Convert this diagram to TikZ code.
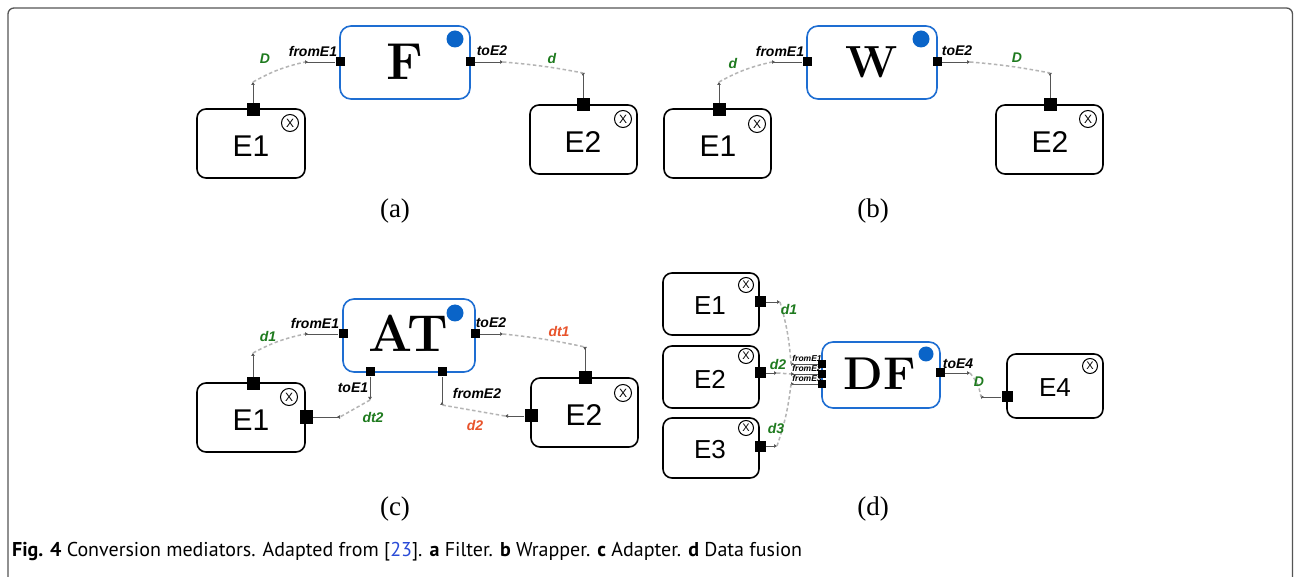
\documentclass[tikz,border=0pt]{standalone}
\usepackage{fontspec}
\setsansfont{Liberation Sans}
\newfontfamily\serifsub{Liberation Serif}
\newfontfamily\capfont{PT Sans}
\usetikzlibrary{arrows.meta}
\definecolor{medblue}{HTML}{1E6ED2}
\definecolor{dotblue}{HTML}{0A64C8}
\definecolor{labgreen}{HTML}{1E7A1E}
\definecolor{labred}{HTML}{E8532B}
\definecolor{changray}{HTML}{B4B4B4}
\definecolor{stubgray}{HTML}{555555}
\definecolor{linkblue}{HTML}{2A4BD7}
\definecolor{framegray}{HTML}{555555}
\begin{document}
\begin{tikzpicture}[x=1pt,y=-1pt,
  ent/.style={draw=black, line width=1.6pt, rounded corners=9pt, fill=white, inner sep=0pt},
  med/.style={draw=medblue, line width=1.6pt, rounded corners=11pt, fill=white, inner sep=0pt},
  port/.style={fill=black, inner sep=0pt, minimum size=13pt},
  mport/.style={fill=black, inner sep=0pt, minimum size=11pt},
  sport/.style={fill=black, inner sep=0pt, minimum size=9pt},
  tport/.style={fill=black, inner sep=0pt, minimum size=7.5pt},
  stub/.style={draw=stubgray, line width=0.7pt},
  outstub/.style={stub, -{Triangle[length=3pt,width=3.5pt]}},
  instub/.style={stub, {Triangle[reversed,length=3pt,width=3.5pt]}-},
  chan/.style={draw=changray, line width=1.5pt, dash pattern=on 3.5pt off 2.5pt},
  xmark/.style={draw, circle, line width=1pt, minimum size=17pt, inner sep=0pt, font=\sffamily\fontsize{12}{12}\selectfont},
  sxmark/.style={xmark, minimum size=15pt, font=\sffamily\fontsize{11}{11}\selectfont},
  dot/.style={circle, fill=dotblue, minimum size=17pt, inner sep=0pt},
  sdot/.style={dot, minimum size=15pt},
  ename/.style={font=\sffamily\fontsize{30}{30}\selectfont, inner sep=0pt},
  sename/.style={font=\sffamily\fontsize{26}{26}\selectfont, inner sep=0pt},
  mname/.style={font=\bfseries\fontsize{52}{52}\selectfont, inner sep=0pt},
  plab/.style={font=\sffamily\bfseries\itshape\fontsize{14}{14}\selectfont, inner sep=0pt},
  tlab/.style={font=\sffamily\bfseries\itshape\fontsize{8.5}{8.5}\selectfont, inner sep=0pt},
  glab/.style={plab, text=labgreen},
  rlab/.style={plab, text=labred},
  subcap/.style={font=\serifsub\fontsize{27}{27}\selectfont, inner sep=0pt}
]
\useasboundingbox (0,0) rectangle (1294,577);
\fill[white] (0,0) rectangle (1294,577);
% frame
\draw[framegray, line width=1.3pt, rounded corners=6pt] (8,580) -- (8,8) -- (1292.5,8) -- (1292.5,580);

% ================= (a) =================
\node[ent, minimum width=108pt, minimum height=69pt] (aE1) at (251,143.5) {};
\node[ename] (aE1t) at (251,146) {E1};
\node[xmark] (aE1x) at (290,123) {X};
\node[med, minimum width=130pt, minimum height=73pt] (aF) at (405,62.5) {};
\node[mname] (aFt) at (405,62) {F};
\node[dot] (aFd) at (455,39) {};
\node[ent, minimum width=107pt, minimum height=69pt] (aE2) at (583.5,139.5) {};
\node[ename] (aE2t) at (583,142) {E2};
\node[xmark] (aE2x) at (623,119) {X};
\node[port] (aP1) at (253,110) {};
\node[sport] (aPi) at (340,62) {};
\node[sport] (aPo) at (470,62) {};
\node[port] (aP2) at (583,105) {};
\coordinate (aT1) at (253,82);
\coordinate (aTi) at (305,62);
\coordinate (aTo) at (503,62);
\coordinate (aT2) at (583,73);
\draw[outstub] (aP1) -- (aT1);
\draw[instub] (aTi) -- (aPi);
\draw[outstub] (aPo) -- (aTo);
\draw[instub] (aT2) -- (aP2);
\draw[chan] (aT1) to[bend left=8] (aTi);
\draw[chan] (aTo) to[bend left=3] (aT2);
\node[glab] (aLD) at (265,59) {D};
\node[plab] (aLfrom) at (313,51) {fromE1};
\node[plab] (aLto) at (492,51) {toE2};
\node[glab] (aLd) at (552,59) {d};
\node[subcap] (aCap) at (395,211) {(a)};

% ================= (b) =================
\node[ent, minimum width=107pt, minimum height=69pt] (bE1) at (717.5,143.5) {};
\node[ename] (bE1t) at (718,146) {E1};
\node[xmark] (bE1x) at (757,124) {X};
\node[med, minimum width=130pt, minimum height=73pt] (bW) at (872,62.5) {};
\node[mname, font=\bfseries\fontsize{45}{45}\selectfont] (bWt) at (872,62) {W};
\node[dot] (bWd) at (921,39) {};
\node[ent, minimum width=107pt, minimum height=69pt] (bE2) at (1049.5,139.5) {};
\node[ename] (bE2t) at (1050,142) {E2};
\node[xmark] (bE2x) at (1088,119) {X};
\node[port] (bP1) at (719,110) {};
\node[sport] (bPi) at (807,62) {};
\node[sport] (bPo) at (937,62) {};
\node[port] (bP2) at (1050,105) {};
\coordinate (bT1) at (719,82);
\coordinate (bTi) at (772,62);
\coordinate (bTo) at (970,62);
\coordinate (bT2) at (1050,73);
\draw[outstub] (bP1) -- (bT1);
\draw[instub] (bTi) -- (bPi);
\draw[outstub] (bPo) -- (bTo);
\draw[instub] (bT2) -- (bP2);
\draw[chan] (bT1) to[bend left=8] (bTi);
\draw[chan] (bTo) to[bend left=3] (bT2);
\node[glab] (bLd) at (733,64) {d};
\node[plab] (bLfrom) at (780,51) {fromE1};
\node[plab] (bLto) at (957,51) {toE2};
\node[glab] (bLD) at (1017,58) {D};
\node[subcap] (bCap) at (873,211) {(b)};

% ================= (c) =================
\node[ent, minimum width=108pt, minimum height=69pt] (cE1) at (251,417.5) {};
\node[ename] (cE1t) at (251,420) {E1};
\node[xmark] (cE1x) at (289,397) {X};
\node[med, minimum width=132pt, minimum height=73pt] (cAT) at (409,335.5) {};
\node[mname] (cATt) at (408,333) {AT};
\node[dot] (cATd) at (455,313) {};
\node[ent, minimum width=107pt, minimum height=69pt] (cE2) at (584.5,412.5) {};
\node[ename] (cE2t) at (584,415) {E2};
\node[xmark] (cE2x) at (623,393) {X};
\node[port] (cP1) at (253,384) {};
\node[port] (cPr) at (306,417) {};
\node[sport] (cPi) at (343,334) {};
\node[sport] (cPo) at (475,334) {};
\node[sport] (cPb1) at (370,372) {};
\node[sport] (cPb2) at (442,372) {};
\node[port] (cP2) at (585,378) {};
\node[port] (cPl) at (531,416) {};
\coordinate (cT1) at (253,353);
\coordinate (cTr) at (340,417);
\coordinate (cTi) at (305,334);
\coordinate (cTo) at (503,334);
\coordinate (cTb1) at (370,400);
\coordinate (cTb2) at (442,405);
\coordinate (cT2) at (585,347);
\coordinate (cTl) at (505,416);
\draw[outstub] (cP1) -- (cT1);
\draw[instub] (cTr) -- (cPr);
\draw[instub] (cTi) -- (cPi);
\draw[outstub] (cPo) -- (cTo);
\draw[outstub] (cPb1) -- (cTb1);
\draw[instub] (cTb2) -- (cPb2);
\draw[instub] (cT2) -- (cP2);
\draw[outstub] (cPl) -- (cTl);
\draw[chan] (cT1) to[bend left=8] (cTi);
\draw[chan] (cTo) to[bend left=3] (cT2);
\draw[chan] (cTb1) -- (cTr);
\draw[chan] (cTl) -- (cTb2);
\node[glab] (cLd1) at (268,337) {d1};
\node[plab] (cLfrom1) at (315,323) {fromE1};
\node[plab] (cLto2) at (491,323) {toE2};
\node[rlab] (cLdt1) at (559,332) {dt1};
\node[plab] (cLto1) at (353,388) {toE1};
\node[plab] (cLfrom2) at (477,393) {fromE2};
\node[glab] (cLdt2) at (373,417) {dt2};
\node[rlab] (cLd2) at (475,425) {d2};
\node[subcap] (cCap) at (395,509) {(c)};

% ================= (d) =================
\node[ent, minimum width=96pt, minimum height=62pt] (dE1) at (711,304) {};
\node[sename] (dE1t) at (710,306) {E1};
\node[sxmark] (dE1x) at (746,285) {X};
\node[ent, minimum width=96pt, minimum height=62pt] (dE2) at (711,377) {};
\node[sename] (dE2t) at (710,379) {E2};
\node[sxmark] (dE2x) at (746,356) {X};
\node[ent, minimum width=96pt, minimum height=60pt] (dE3) at (711,448) {};
\node[sename] (dE3t) at (710,450) {E3};
\node[sxmark] (dE3x) at (746,428) {X};
\node[med, minimum width=118pt, minimum height=66pt] (dDF) at (881,375) {};
\node[mname, font=\bfseries\fontsize{46}{46}\selectfont] (dDFt) at (880,374) {DF};
\node[sdot] (dDFd) at (926,354) {};
\node[ent, minimum width=96pt, minimum height=64pt] (dE4) at (1055,386) {};
\node[sename] (dE4t) at (1055,388) {E4};
\node[sxmark] (dE4x) at (1090,366) {X};
\node[mport] (dP1) at (760,302) {};
\node[mport] (dP2) at (760,373) {};
\node[mport] (dP3) at (760,446) {};
\node[tport] (dPi1) at (822,364) {};
\node[tport] (dPi2) at (822,374) {};
\node[tport] (dPi3) at (822,384) {};
\node[sport] (dPo) at (940,373) {};
\node[mport] (dP4) at (1007,397) {};
\coordinate (dT1) at (780,302);
\coordinate (dT2) at (777,373);
\coordinate (dT3) at (777,446);
\coordinate (dTi1) at (791,364);
\coordinate (dTi2) at (791,374);
\coordinate (dTi3) at (791,384);
\coordinate (dTo) at (970,373);
\coordinate (dT4) at (981,397);
\draw[outstub] (dP1) -- (dT1);
\draw[outstub] (dP2) -- (dT2);
\draw[outstub] (dP3) -- (dT3);
\draw[instub] (dTi1) -- (dPi1);
\draw[instub] (dTi2) -- (dPi2);
\draw[instub] (dTi3) -- (dPi3);
\draw[outstub] (dPo) -- (dTo);
\draw[instub] (dT4) -- (dP4);
\draw[chan] (dT1) to[bend left=6] (dTi1);
\draw[chan] (dT2) -- (dTi2);
\draw[chan] (dT3) to[bend right=6] (dTi3);
\draw[chan] (dTo) to[bend left=15] (dT4);
\node[glab] (dLd1) at (789,310) {d1};
\node[glab] (dLd2) at (778,364) {d2};
\node[glab] (dLd3) at (776,428) {d3};
\node[tlab] (dLf1) at (807,358) {fromE1};
\node[tlab] (dLf2) at (807,368) {fromE2};
\node[tlab] (dLf3) at (807,378) {fromE3};
\node[plab] (dLto4) at (958,364) {toE4};
\node[glab] (dLD) at (979,382) {D};
\node[subcap] (dCap) at (873,509) {(d)};

% caption
\node[anchor=west, inner sep=0pt, font=\capfont\fontsize{20}{20}\selectfont] (caption) at (12,552)
  {\textbf{Fig. 4} Conversion mediators. Adapted from [\textcolor{linkblue}{23}]. \textbf{a} Filter. \textbf{b} Wrapper. \textbf{c} Adapter. \textbf{d} Data fusion};
\end{tikzpicture}
\end{document}
